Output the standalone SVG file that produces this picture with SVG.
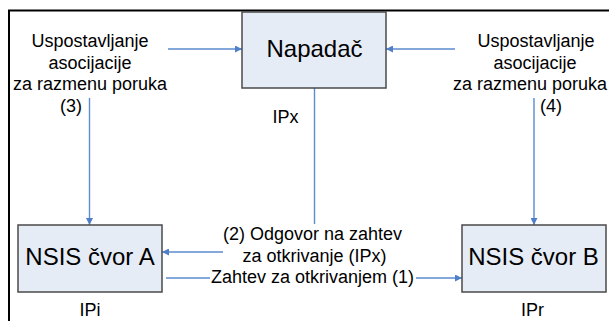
<svg xmlns="http://www.w3.org/2000/svg" width="609" height="321" viewBox="0 0 609 321">
  <style>
    .node rect { fill: #E6ECF6; stroke: #4A4A4A; stroke-width: 1.5; }
    .node text { font-family: "Liberation Sans", Arial, sans-serif; font-size: 24px; fill: #000; text-anchor: middle; }
    .lbl { font-family: "Liberation Sans", Arial, sans-serif; font-size: 18px; fill: #000; text-anchor: middle; }
    .edge { stroke: #5B8BD0; stroke-width: 1.4; fill: none; }
    .frame { fill: none; stroke: #000; stroke-width: 2; }
  </style>
  <defs>
    <marker id="arr" viewBox="0 0 10 10" refX="10" refY="5" markerWidth="7" markerHeight="7" markerUnits="userSpaceOnUse" orient="auto">
      <path d="M0,0 L10,5 L0,10 z" fill="#4F7FC8"/>
    </marker>
  </defs>

  <rect x="0" y="0" width="609" height="321" fill="#fff"/>
  <!-- outer frame -->
  <rect class="frame" x="9" y="10.5" width="640" height="340"/>

  <!-- connectors -->
  <g id="connectors">
    <line class="edge" x1="168" y1="49" x2="242" y2="49" marker-end="url(#arr)"/>
    <line class="edge" x1="455" y1="49" x2="386" y2="49" marker-end="url(#arr)"/>
    <line class="edge" x1="89.5" y1="98" x2="89.5" y2="225" marker-end="url(#arr)"/>
    <line class="edge" x1="534" y1="98" x2="534" y2="225" marker-end="url(#arr)"/>
    <line class="edge" x1="314.5" y1="88" x2="314.5" y2="224"/>
    <line class="edge" x1="223" y1="252" x2="162" y2="252" marker-end="url(#arr)"/>
    <line class="edge" x1="166" y1="278" x2="210" y2="278"/>
    <line class="edge" x1="416" y1="278" x2="462" y2="278" marker-end="url(#arr)"/>
  </g>

  <!-- nodes -->
  <g id="napadac" class="node">
    <rect x="242" y="12" width="144" height="76"/>
    <text x="314.5" y="57">Napadač</text>
  </g>
  <g id="cvor-a" class="node">
    <rect x="18" y="225" width="144" height="67"/>
    <text x="90" y="265">NSIS čvor A</text>
  </g>
  <g id="cvor-b" class="node">
    <rect x="462" y="225" width="144" height="67"/>
    <text x="533.5" y="265">NSIS čvor B</text>
  </g>

  <!-- labels -->
  <g id="labels">
    <text class="lbl" x="90" y="47">Uspostavljanje</text>
    <text class="lbl" x="90" y="68.5">asocijacije</text>
    <text class="lbl" x="90" y="90">za razmenu poruka</text>
    <text class="lbl" x="71" y="111.5">(3)</text>

    <text class="lbl" x="536" y="47">Uspostavljanje</text>
    <text class="lbl" x="535" y="68.5">asocijacije</text>
    <text class="lbl" x="530" y="90">za razmenu poruka</text>
    <text class="lbl" x="551" y="111.5">(4)</text>

    <text class="lbl" x="285.5" y="123">IPx</text>
    <text class="lbl" x="90" y="316">IPi</text>
    <text class="lbl" x="532.5" y="316">IPr</text>

    <text class="lbl" x="312.5" y="240">(2) Odgovor na zahtev</text>
    <text class="lbl" x="314.5" y="261.5">za otkrivanje (IPx)</text>
    <text class="lbl" x="312.5" y="283">Zahtev za otkrivanjem (1)</text>
  </g>
</svg>
